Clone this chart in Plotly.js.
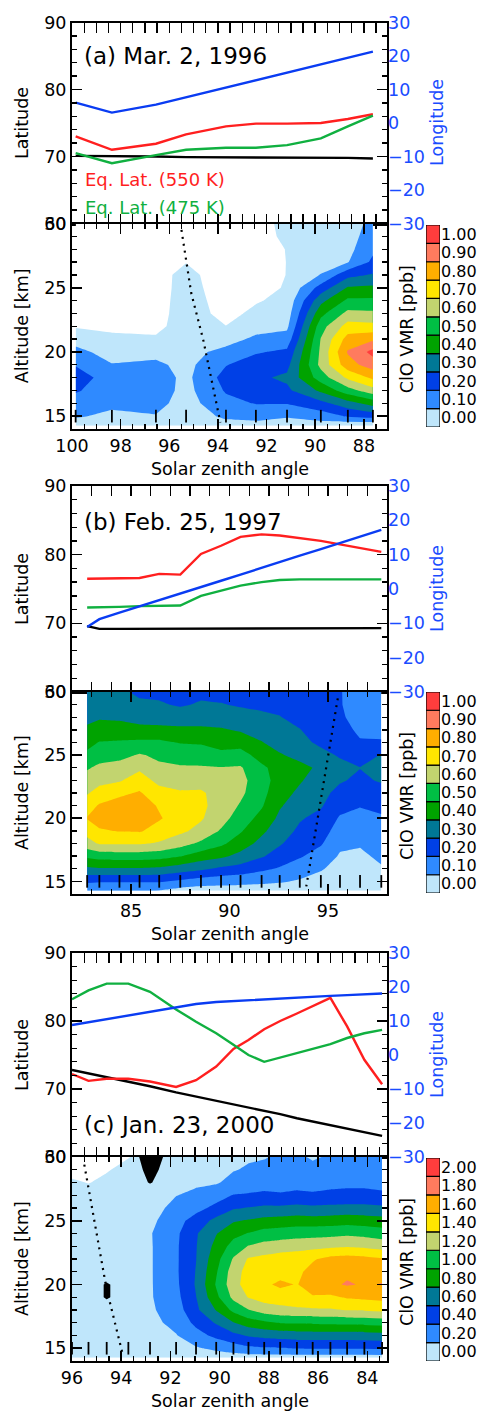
<!DOCTYPE html>
<html>
<head>
<meta charset="utf-8">
<script src="https://cdn.plot.ly/plotly-3.0.1.min.js"></script>
<style>
  html, body { margin: 0; padding: 0; background: #ffffff; }
  #chart { width: 481px; height: 1411px; }
</style>
</head>
<body>
<div id="chart"></div>
<script>
// ---------------------------------------------------------------
// Retrieval altitude grid (km), shared by the three ClO sections
const altGrid = [14.25, 15, 16, 17, 18, 19, 20, 21, 22, 23, 24, 25, 26, 27, 28, 29, 30];
// Altitude at which the individual measurement positions are marked
const markAlt = 15;

// Contour levels and their colorbar labels
const levelsAB = [0, 0.1, 0.2, 0.3, 0.4, 0.5, 0.6, 0.7, 0.8, 0.9, 1.0];
const levelsC  = [0, 0.2, 0.4, 0.6, 0.8, 1.0, 1.2, 1.4, 1.6, 1.8, 2.0];

// ---------------------------------------------------------------
// (a) Mar. 2, 1996
const szaA      = [99.85, 98.36, 96.55, 95.31, 93.67, 92.44, 91.16, 89.77, 88.66, 87.63];
const latA      = [70.1, 70.1, 70.0, 69.9, 69.9, 69.9, 69.9, 69.9, 69.8, 69.7];
const eqLat550A = [73.0, 71.0, 71.9, 73.3, 74.5, 74.9, 74.9, 75.0, 75.6, 76.3];
const eqLat475A = [70.5, 69.0, 70.2, 71.0, 71.3, 71.3, 71.7, 72.7, 74.5, 76.1];
const lonA      = [6.1, 3.1, 5.5, 7.7, 10.6, 12.8, 15.1, 17.6, 19.6, 21.3];
const vmrA = [
  [0.05, 0.03, 0.04, 0.02, 0.06, 0.07, 0.05, 0.05, 0.02, 0.01],
  [0.11, 0.08, 0.095, 0.04, 0.12, 0.13, 0.11, 0.15, 0.21, 0.24],
  [0.16, 0.12, 0.13, 0.06, 0.17, 0.205, 0.205, 0.27, 0.36, 0.44],
  [0.21, 0.15, 0.15, 0.07, 0.21, 0.26, 0.28, 0.42, 0.56, 0.66],
  [0.24, 0.16, 0.15, 0.075, 0.237, 0.28, 0.32, 0.55, 0.72, 0.82],
  [0.195, 0.105, 0.12, 0.07, 0.195, 0.25, 0.27, 0.63, 0.86, 0.95],
  [0.13, 0.06, 0.07, 0.065, 0.13, 0.19, 0.22, 0.62, 0.91, 1.03],
  [0.06, 0.02, 0.015, 0.06, 0.06, 0.12, 0.14, 0.605, 0.84, 0.88],
  [-0.01, -0.02, -0.03, 0.055, 0.002, 0.06, 0.08, 0.56, 0.74, 0.73],
  [-0.05, -0.06, -0.043, 0.055, -0.034, 0.025, 0.05, 0.47, 0.63, 0.62],
  [-0.08, -0.08, -0.055, 0.06, -0.055, -0.01, 0.03, 0.37, 0.52, 0.52],
  [-0.08, -0.08, -0.06, 0.055, -0.073, -0.04, 0.01, 0.24, 0.41, 0.42],
  [-0.08, -0.08, -0.06, 0.05, -0.093, -0.06, 0.003, 0.105, 0.27, 0.31],
  [-0.08, -0.08, -0.07, -0.005, -0.1, -0.08, 0.003, 0.05, 0.095, 0.22],
  [-0.08, -0.08, -0.07, -0.04, -0.1, -0.08, 0.006, 0.03, 0.07, 0.18],
  [-0.08, -0.08, -0.07, -0.06, -0.1, -0.06, 0.03, 0.02, 0.05, 0.16],
  [-0.08, -0.08, -0.07, -0.07, -0.1, -0.07, 0.05, 0.02, 0.05, 0.13]
];
const termA_sza = [95.5, 95.1, 94.6, 93.9];
const termA_alt = [29.5, 24.6, 20.9, 14.5];

// ---------------------------------------------------------------
// (b) Feb. 25, 1997
const szaB      = [82.77, 83.39, 84.41, 85.43, 86.43, 87.50, 88.55, 89.57, 90.56, 91.63, 92.55, 93.57, 94.64, 95.61, 96.63, 97.71];
const latB      = [69.6, 69.2, 69.2, 69.2, 69.2, 69.2, 69.2, 69.2, 69.2, 69.2, 69.2, 69.3, 69.3, 69.3, 69.3, 69.3];
const eqLat550B = [76.5, 76.5, 76.6, 76.6, 77.2, 77.1, 80.1, 81.3, 82.6, 82.95, 82.8, 82.4, 82.0, 81.5, 81.0, 80.4];
const eqLat475B = [72.3, 72.3, 72.4, 72.5, 72.6, 72.6, 74.0, 74.8, 75.5, 76.0, 76.3, 76.4, 76.4, 76.4, 76.4, 76.4];
const lonB      = [-11.1, -8.8, -6.9, -5.1, -3.3, -1.3, 0.5, 2.4, 4.2, 6.2, 7.8, 9.7, 11.6, 13.4, 15.2, 17.2];
const vmrB = [
  [0.11, 0.11, 0.11, 0.11, 0.095, 0.06, 0.05, 0.05, 0.05, 0.05, 0.04, 0.03, 0.02, 0.01, 0.01, 0.02],
  [0.22, 0.21, 0.21, 0.21, 0.21, 0.18, 0.15, 0.14, 0.13, 0.12, 0.11, 0.09, 0.06, 0.03, 0.03, 0.04],
  [0.38, 0.39, 0.39, 0.39, 0.38, 0.35, 0.32, 0.28, 0.26, 0.22, 0.19, 0.15, 0.11, 0.06, 0.05, 0.09],
  [0.52, 0.54, 0.55, 0.55, 0.54, 0.505, 0.45, 0.42, 0.37, 0.31, 0.26, 0.21, 0.16, 0.09, 0.08, 0.12],
  [0.66, 0.71, 0.71, 0.71, 0.69, 0.64, 0.58, 0.52, 0.45, 0.37, 0.31, 0.25, 0.21, 0.12, 0.11, 0.14],
  [0.74, 0.79, 0.805, 0.81, 0.76, 0.72, 0.67, 0.59, 0.51, 0.42, 0.35, 0.28, 0.24, 0.16, 0.14, 0.16],
  [0.805, 0.84, 0.86, 0.86, 0.81, 0.75, 0.71, 0.64, 0.55, 0.47, 0.38, 0.31, 0.27, 0.19, 0.17, 0.19],
  [0.76, 0.81, 0.84, 0.85, 0.79, 0.74, 0.72, 0.66, 0.59, 0.51, 0.41, 0.35, 0.31, 0.23, 0.205, 0.22],
  [0.69, 0.74, 0.78, 0.81, 0.74, 0.71, 0.71, 0.67, 0.62, 0.53, 0.44, 0.38, 0.33, 0.27, 0.24, 0.26],
  [0.64, 0.67, 0.69, 0.75, 0.67, 0.66, 0.67, 0.64, 0.63, 0.54, 0.46, 0.41, 0.35, 0.31, 0.28, 0.31],
  [0.59, 0.62, 0.64, 0.68, 0.62, 0.61, 0.61, 0.605, 0.61, 0.52, 0.46, 0.43, 0.38, 0.33, 0.302, 0.32],
  [0.52, 0.56, 0.57, 0.61, 0.58, 0.56, 0.55, 0.52, 0.54, 0.46, 0.41, 0.37, 0.33, 0.29, 0.26, 0.305],
  [0.47, 0.505, 0.51, 0.52, 0.52, 0.495, 0.49, 0.47, 0.46, 0.405, 0.36, 0.33, 0.28, 0.26, 0.21, 0.21],
  [0.42, 0.44, 0.45, 0.43, 0.43, 0.42, 0.42, 0.41, 0.39, 0.36, 0.33, 0.305, 0.24, 0.24, 0.18, 0.17],
  [0.37, 0.39, 0.38, 0.36, 0.35, 0.35, 0.35, 0.35, 0.34, 0.32, 0.305, 0.26, 0.205, 0.22, 0.15, 0.15],
  [0.34, 0.36, 0.33, 0.31, 0.31, 0.29, 0.31, 0.305, 0.29, 0.28, 0.27, 0.23, 0.21, 0.21, 0.13, 0.14],
  [0.32, 0.33, 0.31, 0.29, 0.28, 0.27, 0.28, 0.27, 0.25, 0.24, 0.24, 0.21, 0.21, 0.21, 0.12, 0.13]
];
const termB_sza = [95.5, 94.55, 93.9];
const termB_alt = [29.5, 20.7, 14.6];

// ---------------------------------------------------------------
// (c) Jan. 23, 2000
const szaC      = [96.0, 95.33, 94.59, 93.71, 92.83, 91.77, 90.96, 90.14, 89.44, 88.83, 88.19, 87.54, 86.86, 86.22, 85.5, 84.82, 84.12, 83.4];
const latC      = [72.8, 72.3, 71.7, 71.0, 70.4, 69.5, 68.9, 68.3, 67.7, 67.3, 66.8, 66.3, 65.7, 65.2, 64.7, 64.1, 63.6, 63.1];
const eqLat550C = [72.2, 71.2, 71.5, 71.5, 71.1, 70.3, 71.3, 73.3, 75.9, 77.2, 78.8, 80.0, 81.1, 82.2, 83.4, 79.2, 74.3, 70.7];
const eqLat475C = [83.2, 84.5, 85.5, 85.5, 84.3, 81.7, 79.9, 78.2, 76.5, 75.0, 74.0, 74.6, 75.2, 75.9, 76.6, 77.5, 78.2, 78.7];
const lonC      = [8.8, 9.6, 10.5, 11.6, 12.6, 14.0, 15.0, 15.6, 15.9, 16.1, 16.4, 16.7, 16.9, 17.2, 17.4, 17.6, 17.8, 18.1];
const vmrC = [
  [0.05, 0.05, 0.05, 0.05, 0.05, 0.06, 0.08, 0.1, 0.1, 0.1, 0.1, 0.1, 0.1, 0.1, 0.1, 0.1, 0.1, 0.1],
  [0.06, 0.06, 0.06, 0.07, 0.08, 0.1, 0.18, 0.24, 0.3, 0.36, 0.38, 0.39, 0.41, 0.42, 0.42, 0.42, 0.42, 0.43],
  [0.07, 0.07, 0.07, 0.08, 0.12, 0.19, 0.32, 0.45, 0.55, 0.62, 0.66, 0.68, 0.7, 0.7, 0.7, 0.7, 0.71, 0.72],
  [0.08, 0.08, 0.08, 0.1, 0.15, 0.25, 0.45, 0.62, 0.79, 0.9, 0.96, 1.01, 1.02, 1.03, 1.04, 1.05, 1.06, 1.08],
  [0.08, 0.08, 0.09, 0.11, 0.17, 0.3, 0.56, 0.81, 1.05, 1.19, 1.3, 1.34, 1.36, 1.37, 1.38, 1.41, 1.42, 1.44],
  [0.08, 0.08, 0.09, 0.12, 0.18, 0.34, 0.595, 0.95, 1.25, 1.41, 1.48, 1.5, 1.54, 1.58, 1.56, 1.62, 1.64, 1.66],
  [0.08, 0.08, 0.09, 0.12, 0.18, 0.36, 0.62, 1.02, 1.32, 1.5, 1.56, 1.64, 1.59, 1.7, 1.76, 1.82, 1.78, 1.81],
  [0.08, 0.08, 0.09, 0.12, 0.18, 0.37, 0.61, 0.98, 1.3, 1.48, 1.54, 1.52, 1.56, 1.66, 1.74, 1.76, 1.75, 1.74],
  [0.08, 0.08, 0.09, 0.12, 0.18, 0.37, 0.595, 0.93, 1.22, 1.42, 1.46, 1.5, 1.52, 1.58, 1.66, 1.68, 1.66, 1.62],
  [0.08, 0.08, 0.09, 0.12, 0.18, 0.37, 0.59, 0.86, 1.08, 1.21, 1.27, 1.3, 1.32, 1.34, 1.36, 1.38, 1.36, 1.32],
  [0.08, 0.08, 0.09, 0.12, 0.185, 0.36, 0.58, 0.79, 0.94, 1.01, 1.08, 1.1, 1.12, 1.13, 1.14, 1.16, 1.14, 1.1],
  [0.07, 0.07, 0.08, 0.1, 0.15, 0.33, 0.48, 0.66, 0.78, 0.82, 0.86, 0.88, 0.9, 0.89, 0.9, 0.92, 0.9, 0.88],
  [0.06, 0.06, 0.07, 0.09, 0.12, 0.26, 0.34, 0.45, 0.58, 0.61, 0.64, 0.64, 0.66, 0.64, 0.65, 0.66, 0.66, 0.64],
  [0.05, 0.05, 0.05, 0.08, 0.1, 0.195, 0.24, 0.32, 0.41, 0.42, 0.44, 0.42, 0.44, 0.43, 0.45, 0.46, 0.46, 0.44],
  [0.02, -0.005, 0.03, 0.06, 0.08, 0.14, 0.17, 0.18, 0.26, 0.3, 0.32, 0.33, 0.34, 0.32, 0.34, 0.35, 0.35, 0.33],
  [-0.05, -0.06, -0.01, 0.04, 0.06, 0.1, 0.12, 0.13, 0.19, 0.22, 0.24, 0.25, 0.27, 0.25, 0.27, 0.28, 0.27, 0.26],
  [-0.1, -0.1, -0.06, -0.005, 0.05, 0.08, 0.09, 0.1, 0.16, 0.18, 0.19, 0.22, 0.23, 0.18, 0.22, 0.23, 0.22, 0.21]
];
// flagged (rejected) retrieval cells, drawn in black
const flagC = [
  [0, 0, 0, 0, 0, 0, 0, 0, 0, 0, 0, 0, 0, 0, 0, 0, 0, 0],
  [0, 0, 0, 0, 0, 0, 0, 0, 0, 0, 0, 0, 0, 0, 0, 0, 0, 0],
  [0, 0, 0, 0, 0, 0, 0, 0, 0, 0, 0, 0, 0, 0, 0, 0, 0, 0],
  [0, 0, 0, 0, 0, 0, 0, 0, 0, 0, 0, 0, 0, 0, 0, 0, 0, 0],
  [0, 0, 0, 0, 0, 0, 0, 0, 0, 0, 0, 0, 0, 0, 0, 0, 0, 0],
  [0, 0, 0.6, 0, 0, 0, 0, 0, 0, 0, 0, 0, 0, 0, 0, 0, 0, 0],
  [0, 0, 0.6, 0, 0, 0, 0, 0, 0, 0, 0, 0, 0, 0, 0, 0, 0, 0],
  [0, 0, 0, 0, 0, 0, 0, 0, 0, 0, 0, 0, 0, 0, 0, 0, 0, 0],
  [0, 0, 0, 0, 0, 0, 0, 0, 0, 0, 0, 0, 0, 0, 0, 0, 0, 0],
  [0, 0, 0, 0, 0, 0, 0, 0, 0, 0, 0, 0, 0, 0, 0, 0, 0, 0],
  [0, 0, 0, 0, 0, 0, 0, 0, 0, 0, 0, 0, 0, 0, 0, 0, 0, 0],
  [0, 0, 0, 0, 0, 0, 0, 0, 0, 0, 0, 0, 0, 0, 0, 0, 0, 0],
  [0, 0, 0, 0, 0, 0, 0, 0, 0, 0, 0, 0, 0, 0, 0, 0, 0, 0],
  [0, 0, 0, 0, 0, 0, 0, 0, 0, 0, 0, 0, 0, 0, 0, 0, 0, 0],
  [0, 0, 0, 0, 0.55, 0, 0, 0, 0, 0, 0, 0, 0, 0, 0, 0, 0, 0],
  [0, 0, 0, 0, 0.75, 0, 0, 0, 0, 0, 0, 0, 0, 0, 0, 0, 0, 0],
  [0, 0, 0, 0, 1.0, 0, 0, 0, 0, 0, 0, 0, 0, 0, 0, 0, 0, 0]
];
const termC_sza = [95.5, 94.6, 93.95];
const termC_alt = [29.4, 19.7, 14.6];

// ---------------------------------------------------------------
// Styling
const FONT = 'DejaVu Sans';
const AXIS_BLUE = '#1a4cff';
const LINE = { lat: '#000000', eq550: '#ff1f1f', eq475: '#10b040', lon: '#0a3cf2' };
// first entry: below the lowest level (left blank); then one colour per colorbar step
const bandColors = ['#ffffff', '#bfe6fb', '#2f8aff', '#0040e6', '#007896', '#00a300', '#00bf44',
                    '#c2d46f', '#ffe600', '#ffae00', '#ff7b5e', '#ff3d3d'];
const bandScale = bandColors.map((c, k) => [k / (bandColors.length - 1), c]);

// Page geometry in pixels
const W = 481, H = 1411;
const fx = px => px / W;
const fy = py => 1 - py / H;
const plotLeft = 72, plotRight = 387;
const cbLeft = 426, cbRight = 440;

const frames = [
  { top: [22.5, 223.5], cont: [223.5, 429], cb: [225, 427], xRange: [100, 87.05], xDtick: 2, xMinor: 0.5,
    tag: '(a) Mar. 2, 1996', tagY: 56, legend: true },
  { top: [486, 692], cont: [692, 894], cb: [692, 893], xRange: [82, 98], xDtick: 5, xMinor: 1,
    tag: '(b) Feb. 25, 1997', tagY: 522, legend: false },
  { top: [953, 1157], cont: [1157, 1361], cb: [1158, 1361], xRange: [96, 83.2], xDtick: 2, xMinor: 0.5,
    tag: '(c) Jan. 23, 2000', tagY: 1125, legend: false }
];

const panelData = [
  { sza: szaA, lat: latA, eq550: eqLat550A, eq475: eqLat475A, lon: lonA, vmr: vmrA, flag: null,
    levels: levelsAB, termSza: termA_sza, termAlt: termA_alt },
  { sza: szaB, lat: latB, eq550: eqLat550B, eq475: eqLat475B, lon: lonB, vmr: vmrB, flag: null,
    levels: levelsAB, termSza: termB_sza, termAlt: termB_alt },
  { sza: szaC, lat: latC, eq550: eqLat550C, eq475: eqLat475C, lon: lonC, vmr: vmrC, flag: flagC,
    levels: levelsC, termSza: termC_sza, termAlt: termC_alt }
];

const traces = [];
const layout = {
  width: W, height: H,
  margin: { l: 0, r: 0, t: 0, b: 0 },
  paper_bgcolor: '#ffffff', plot_bgcolor: 'rgba(0,0,0,0)',
  showlegend: false, hovermode: false, barmode: 'overlay',
  font: { family: FONT, size: 17.5, color: '#000' },
  annotations: []
};

const tickFont = { family: FONT, size: 17.5, color: '#000' };
const frameAxis = {
  showgrid: false, zeroline: false, showline: true, linecolor: '#000', linewidth: 2,
  mirror: 'allticks', ticks: 'inside', ticklen: 10, tickwidth: 1.6, tickcolor: '#000',
  tickfont: tickFont
};
const minorTicks = dt => ({ ticks: 'inside', ticklen: 5, tickwidth: 1.3, tickcolor: '#000', dtick: dt });

const xName = n => 'x' + (n === 1 ? '' : n);
const yName = n => 'y' + (n === 1 ? '' : n);
const xKey = n => 'xaxis' + (n === 1 ? '' : n);
const yKey = n => 'yaxis' + (n === 1 ? '' : n);

function note(text, xpx, ypx, extra) {
  return Object.assign({
    text: text, x: fx(xpx), y: fy(ypx), xref: 'paper', yref: 'paper', showarrow: false,
    xanchor: 'center', yanchor: 'middle', font: { family: FONT, size: 17.5, color: '#000' }
  }, extra || {});
}

frames.forEach((g, i) => {
  const d = panelData[i];
  const xTop = 3 * i + 1, xCont = 3 * i + 2, xCb = 3 * i + 3;
  const yLat = 4 * i + 1, yLon = 4 * i + 2, yCont = 4 * i + 3, yCb = 4 * i + 4;

  // --- geolocation lines
  const lineTrace = (y, color, yaxis) => ({
    type: 'scatter', mode: 'lines', x: d.sza, y: y, xaxis: xName(xTop), yaxis: yName(yaxis),
    line: { color: color, width: 2.4 }, hoverinfo: 'skip', cliponaxis: true
  });
  traces.push(lineTrace(d.lat, LINE.lat, yLat));
  traces.push(lineTrace(d.eq550, LINE.eq550, yLat));
  traces.push(lineTrace(d.eq475, LINE.eq475, yLat));
  traces.push(lineTrace(d.lon, LINE.lon, yLon));

  // --- ClO mixing ratio section (straight-edged filled bands)
  const lv = d.levels;
  traces.push({
    type: 'contour', x: d.sza, y: altGrid, z: d.vmr, xaxis: xName(xCont), yaxis: yName(yCont),
    autocontour: false,
    contours: { start: lv[0], end: lv[lv.length - 1], size: lv[1] - lv[0], coloring: 'fill', showlines: false },
    line: { width: 0, smoothing: 0 }, colorscale: bandScale, showscale: false, hoverinfo: 'skip'
  });
  if (d.flag) {
    traces.push({
      type: 'contour', x: d.sza, y: altGrid, z: d.flag, xaxis: xName(xCont), yaxis: yName(yCont),
      autocontour: false, contours: { start: 0.5, end: 0.5, size: 1, coloring: 'fill', showlines: false },
      line: { width: 0, smoothing: 0 }, colorscale: [[0, 'rgba(0,0,0,0)'], [1, '#000000']],
      showscale: false, hoverinfo: 'skip'
    });
  }
  traces.push({
    type: 'scatter', mode: 'lines', x: d.termSza, y: d.termAlt, xaxis: xName(xCont), yaxis: yName(yCont),
    line: { color: '#000', width: 2.2, dash: '2px,5px' }, hoverinfo: 'skip'
  });
  traces.push({
    type: 'scatter', mode: 'markers', x: d.sza, y: d.sza.map(() => markAlt),
    xaxis: xName(xCont), yaxis: yName(yCont),
    marker: { symbol: 'line-ns', size: 9, color: '#000', line: { width: 1.8, color: '#000' } },
    hoverinfo: 'skip', cliponaxis: false
  });

  // --- colorbar boxes, one per level
  traces.push({
    type: 'bar', x: lv.map(() => 0.5), y: lv.map(() => 1), base: lv.map((_, k) => k), width: 1,
    xaxis: xName(xCb), yaxis: yName(yCb),
    marker: { color: bandColors.slice(1, lv.length + 1), line: { color: '#000', width: 1.2 } },
    hoverinfo: 'skip'
  });

  // --- axes
  layout[xKey(xTop)] = Object.assign({}, frameAxis, {
    domain: [fx(plotLeft), fx(plotRight)], range: g.xRange, anchor: yName(yLat),
    tick0: 0, dtick: g.xDtick, minor: minorTicks(g.xMinor), showticklabels: false
  });
  layout[yKey(yLat)] = Object.assign({}, frameAxis, {
    domain: [fy(g.top[1]), fy(g.top[0])], range: [60, 90], anchor: xName(xTop),
    tick0: 0, dtick: 10, minor: minorTicks(2)
  });
  layout[yKey(yLon)] = {
    overlaying: yName(yLat), side: 'right', anchor: xName(xTop), range: [-30, 30],
    tick0: 0, dtick: 10, ticks: '', showline: false, showgrid: false, zeroline: false,
    tickfont: { family: FONT, size: 17.5, color: AXIS_BLUE }
  };
  layout[xKey(xCont)] = Object.assign({}, frameAxis, {
    domain: [fx(plotLeft), fx(plotRight)], range: g.xRange, anchor: yName(yCont),
    tick0: 0, dtick: g.xDtick, minor: minorTicks(g.xMinor)
  });
  layout[yKey(yCont)] = Object.assign({}, frameAxis, {
    domain: [fy(g.cont[1]), fy(g.cont[0])], range: [14, 30], anchor: xName(xCont),
    tick0: 15, dtick: 5, minor: minorTicks(1)
  });
  layout[xKey(xCb)] = {
    domain: [fx(cbLeft), fx(cbRight)], range: [0, 1], anchor: yName(yCb), visible: false
  };
  layout[yKey(yCb)] = {
    domain: [fy(g.cb[1]), fy(g.cb[0])], range: [0, lv.length], anchor: xName(xCb), side: 'right',
    tickvals: lv.map((_, k) => k + 0.5), ticktext: lv.map(v => v.toFixed(2)),
    ticks: '', showline: false, showgrid: false, zeroline: false,
    tickfont: { family: FONT, size: 16, color: '#000' }
  };

  // --- text
  const topMid = (g.top[0] + g.top[1]) / 2;
  const contMid = (g.cont[0] + g.cont[1]) / 2;
  layout.annotations.push(note(g.tag, 82, g.tagY, { xanchor: 'left', font: { family: FONT, size: 23, color: '#000' } }));
  layout.annotations.push(note('Latitude', 22, topMid, { textangle: -90 }));
  layout.annotations.push(note('Longitude', 437, topMid, { textangle: -90, font: { family: FONT, size: 17.5, color: AXIS_BLUE } }));
  layout.annotations.push(note('Altitude [km]', 22, contMid, { textangle: -90 }));
  layout.annotations.push(note('ClO VMR [ppb]', 407, contMid + 3, { textangle: -90 }));
  layout.annotations.push(note('Solar zenith angle', (plotLeft + plotRight) / 2, g.cont[1] + 40));
  if (g.legend) {
    layout.annotations.push(note('Eq. Lat. (550 K)', 83, 180, { xanchor: 'left', font: { family: FONT, size: 18, color: LINE.eq550 } }));
    layout.annotations.push(note('Eq. Lat. (475 K)', 83, 207, { xanchor: 'left', font: { family: FONT, size: 18, color: LINE.eq475 } }));
  }
});

Plotly.newPlot('chart', traces, layout, { staticPlot: true, displayModeBar: false });
</script>
</body>
</html>
